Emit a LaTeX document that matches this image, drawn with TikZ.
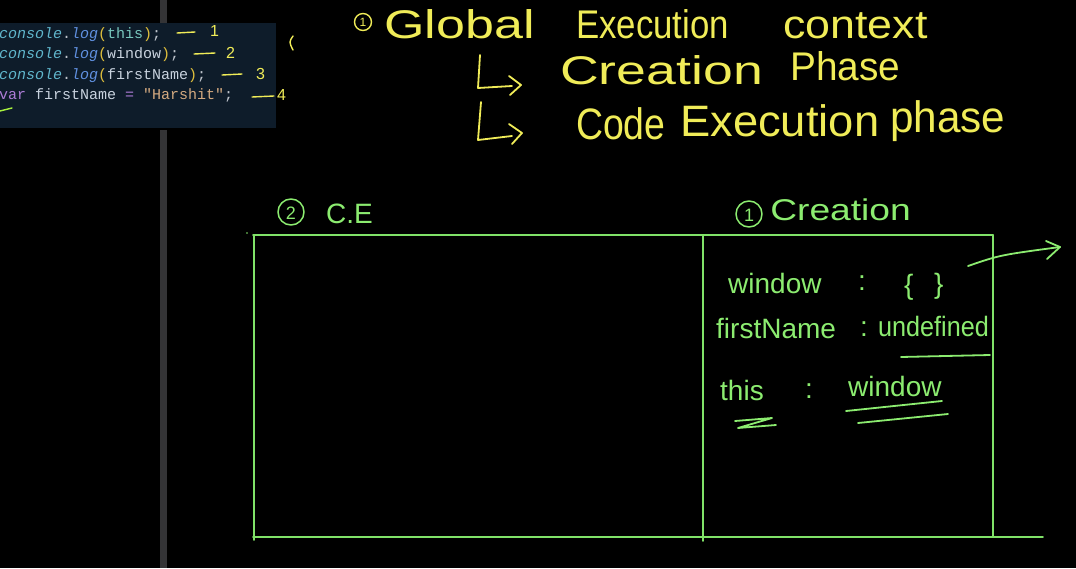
\documentclass[tikz,border=0pt]{standalone}
\usepackage{fontspec}
\setmainfont{Liberation Sans}
\setmonofont{Liberation Mono}
\newfontfamily\handfont{Liberation Sans}
\definecolor{pen}{RGB}{240,236,88}
\definecolor{grn}{RGB}{128,226,104}
\definecolor{gtxt}{RGB}{140,236,112}
\definecolor{codebg}{RGB}{14,28,42}
\definecolor{barc}{RGB}{52,52,54}
\definecolor{ccons}{RGB}{96,182,204}
\definecolor{clog}{RGB}{96,144,224}
\definecolor{cpar}{RGB}{222,190,60}
\definecolor{cthis}{RGB}{120,200,190}
\definecolor{cid}{RGB}{200,210,222}
\definecolor{cpun}{RGB}{190,196,204}
\definecolor{ckw}{RGB}{172,124,214}
\definecolor{cstr}{RGB}{212,170,128}
\begin{document}
\begin{tikzpicture}[x=1pt,y=-1pt,
  codeline/.style={anchor=base west,inner sep=0pt,font=\ttfamily\fontsize{15}{15}\selectfont},
  hand/.style={anchor=base west,inner sep=0pt,text=pen,font=\handfont\fontsize{40}{40}\selectfont},
  ghand/.style={anchor=base west,inner sep=0pt,text=gtxt,font=\handfont\fontsize{28}{28}\selectfont},
  note/.style={anchor=base west,inner sep=0pt,text=pen,font=\handfont\fontsize{16}{16}\selectfont},
  penline/.style={draw=pen,line width=1.8pt,line cap=round,line join=round},
  gline/.style={draw=grn,line width=1.8pt,line cap=round},
  gpen/.style={draw=gtxt,line width=1.8pt,line cap=round,line join=round}]
\useasboundingbox (0,0) rectangle (1076,568);
\fill[black] (0,0) rectangle (1076,568);
% editor side
\fill[barc] (160,0) rectangle (167,23);
\fill[barc] (160,130) rectangle (167,568);
\fill[codebg] (0,23) rectangle (276,128);
\node[codeline] (l1) at (-1,38) {{\color{ccons}\itshape console}{\color{cpun}.}{\color{clog}\itshape log}{\color{cpar}(}{\color{cthis}this}{\color{cpar})}{\color{cpun};}};
\node[codeline] (l2) at (-1,58.5) {{\color{ccons}\itshape console}{\color{cpun}.}{\color{clog}\itshape log}{\color{cpar}(}{\color{cid}window}{\color{cpar})}{\color{cpun};}};
\node[codeline] (l3) at (-1,79) {{\color{ccons}\itshape console}{\color{cpun}.}{\color{clog}\itshape log}{\color{cpar}(}{\color{cid}firstName}{\color{cpar})}{\color{cpun};}};
\node[codeline] (l4) at (-1,99.5) {{\color{ckw}var} {\color{cid}firstName} {\color{ckw}=} {\color{cstr}"Harshit"}{\color{cpun};}};
% annotations on code
\draw[penline,line width=1.4pt] (177,33) -- (195,32);
\node[note] (n1) at (210,36) {1};
\draw[penline,line width=1.4pt] (194,54) -- (215,53);
\node[note] (n2) at (226,58) {2};
\draw[penline,line width=1.4pt] (222,75) -- (242,74);
\node[note] (n3) at (256,79) {3};
\draw[penline,line width=1.4pt] (252,97) -- (274,96);
\node[note] (n4) at (277,100) {4};
\draw[penline,line width=1.4pt] (293,36) .. controls (289,42) .. (293,50);
\draw[draw=pen!70!green,line width=1.4pt,line cap=round] (0,111) -- (12,108);
% headings
\draw[penline,line width=1.4pt] (363,22) circle (8.5);
\node[anchor=center,inner sep=0pt,text=pen,font=\handfont\fontsize{12}{12}\selectfont] (c1) at (363,22) {1};
\node[hand,xscale=1.3] (w1) at (384,38) {Global};
\node[hand,xscale=0.87] (w2) at (576,38) {Execution};
\node[hand,xscale=1.12] (w3) at (783,38) {context};
\draw[penline] (480,55) -- (478,88) -- (512,86);
\draw[penline] (509,76) -- (521,85) -- (510,95);
\node[hand,xscale=1.34] (w4) at (560,84) {Creation};
\node[hand,xscale=0.97] (w5) at (790,80) {Phase};
\draw[penline] (481,102) -- (478,140) -- (512,136);
\draw[penline] (509,124) -- (522,133) -- (512,144);
\node[hand,xscale=0.85,font=\handfont\fontsize{44}{44}\selectfont] (w6) at (576,139) {Code};
\node[hand,xscale=1.03,font=\handfont\fontsize{44}{44}\selectfont] (w7) at (680,136) {Execution};
\node[hand,xscale=0.96,font=\handfont\fontsize{44}{44}\selectfont] (w8) at (890,132) {phase};
% box labels
\draw[gpen,line width=1.5pt] (291,212) circle (13);
\node[anchor=center,inner sep=0pt,text=gtxt,font=\handfont\fontsize{18}{18}\selectfont] (c2) at (291,213) {2};
\node[ghand] (ce) at (326,223) {C.E};
\draw[gpen,line width=1.5pt] (749,214) circle (13);
\node[anchor=center,inner sep=0pt,text=gtxt,font=\handfont\fontsize{18}{18}\selectfont] (c3) at (749,215) {1};
\node[ghand,xscale=1.24,font=\handfont\fontsize{30}{30}\selectfont] (cr) at (770,220) {Creation};
% box
\fill[grn] (247,233) circle (0.9);
\draw[gline] (253,235) -- (993,235);
\draw[gline] (254,235) -- (254,540);
\draw[gline] (703,235) -- (703,541);
\draw[gline] (993,235) -- (993,537);
\draw[gline] (253,537) -- (1043,537);
% contents
\node[ghand] (t1) at (728,293) {window};
\node[ghand] (t2) at (858,290) {:};
\node[ghand] (t3) at (904,294) {\{};
\node[ghand] (t4) at (934,293) {\}};
\node[ghand] (t5) at (716,338) {firstName};
\node[ghand] (t6) at (860,336) {:};
\node[ghand,xscale=0.9] (t7) at (878,336) {undefined};
\node[ghand] (t8) at (720,400) {this};
\node[ghand] (t9) at (805,398) {:};
\node[ghand] (t10) at (848,396) {window};
\draw[gpen] (901,357) -- (990,355);
\draw[gpen] (846,411) -- (942,401);
\draw[gpen] (858,423) -- (948,414);
\draw[gpen] (735,421) -- (772,418) -- (738,428) -- (776,425);
% arrow out of window
\coordinate (a0) at (968,266);
\coordinate (a1) at (1060,247);
\draw[gpen] (a0) .. controls (1000,255) .. (a1);
\draw[gpen] (1046,241) -- (a1) -- (1047,259);
\end{tikzpicture}
\end{document}
